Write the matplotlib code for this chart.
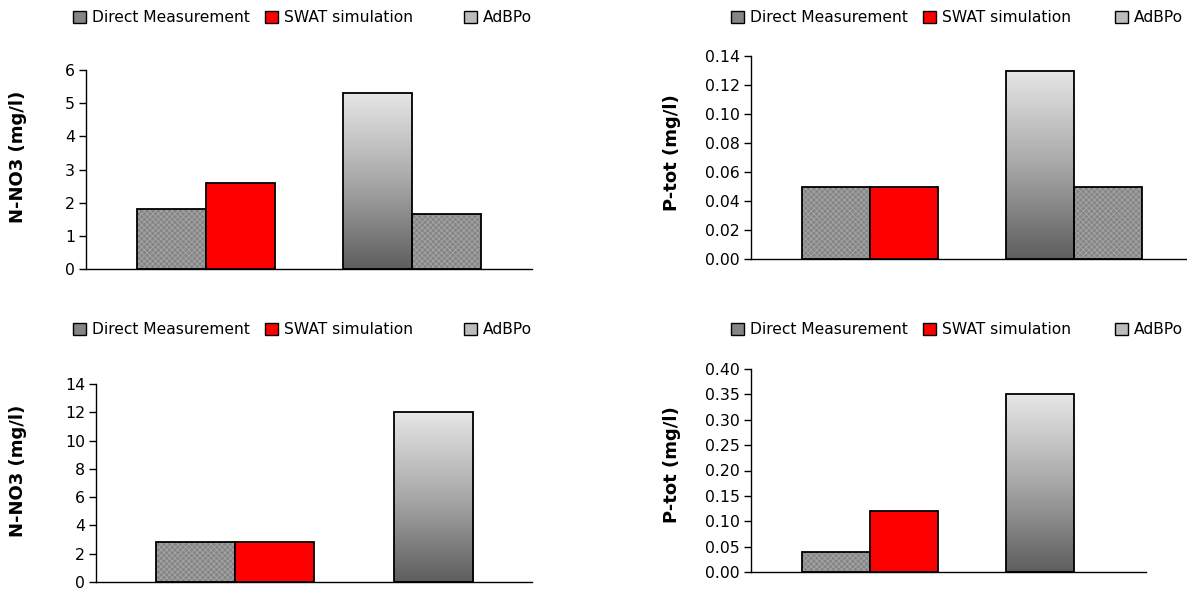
import numpy as np
import matplotlib
matplotlib.use("Agg")
import matplotlib.pyplot as plt
from matplotlib.patches import Patch
from matplotlib.colors import LinearSegmentedColormap

# ---- data ----
series = ["Direct Measurement", "SWAT simulation", "AdBPo"]
# group 1: Direct, SWAT ; group 2: AdBPo, Direct (second measurement)
p1_direct = [1.8]
p1_swat = [2.6]
p1_adbpo = [5.3]
p1_direct2 = [1.65]

p2_direct = [0.05]
p2_swat = [0.05]
p2_adbpo = [0.13]
p2_direct2 = [0.05]

p3_direct = [2.8]
p3_swat = [2.8]
p3_adbpo = [12.0]
p3_direct2 = []

p4_direct = [0.04]
p4_swat = [0.12]
p4_adbpo = [0.35]
p4_direct2 = []

ylabels = ["N-NO3 (mg/l)", "P-tot (mg/l)", "N-NO3 (mg/l)", "P-tot (mg/l)"]
yticks_list = [np.arange(0, 7, 1), np.arange(0, 0.141, 0.02),
               np.arange(0, 15, 2), np.arange(0, 0.401, 0.05)]
yfmt = ["{:.0f}", "{:.2f}", "{:.0f}", "{:.2f}"]

# ---- style ----
plt.rcParams['font.family'] = ['DejaVu Sans']
plt.rcParams['hatch.linewidth'] = 0.6
W, H = 1187, 589
fig = plt.figure(figsize=(W / 100, H / 100), dpi=100)

HATCH_FACE = '#858585'
HATCH_COL = '#a6a6a6'
RED = '#ff0000'
grad_cmap = LinearSegmentedColormap.from_list('g', ['#5e5e5e', '#a8a8a8', '#e6e6e6'])

# axes rects in pixels: left, right, top, bottom
rects = [(86, 532, 70, 269), (751, 1193, 56, 259), (96, 532, 384, 582), (751, 1146, 369, 572)]
xlims = [(-0.583, 1.583), (-0.583, 1.583), (-0.584, 1.248), (-0.583, 1.353)]
widths = [0.335, 0.333, 0.332, 0.333]
data = [(p1_direct, p1_swat, p1_adbpo, p1_direct2),
        (p2_direct, p2_swat, p2_adbpo, p2_direct2),
        (p3_direct, p3_swat, p3_adbpo, p3_direct2),
        (p4_direct, p4_swat, p4_adbpo, p4_direct2)]
ylab_pos = [(18, 157), (672, 153), (18, 471), (672, 465)]


def hatched_bar(ax, x, h, w):
    ax.bar(x, h, w, color=HATCH_FACE, hatch='xxxxxx', edgecolor=HATCH_COL, linewidth=0, zorder=2)
    ax.bar(x, h, w, fill=False, edgecolor='black', linewidth=1.3, zorder=3)


def gradient_bar(ax, x, h, w):
    bars = ax.bar(x, h, w, fill=False, edgecolor='black', linewidth=1.3, zorder=3)
    grad = np.linspace(0, 1, 256).reshape(-1, 1)
    for b in bars:
        x0, bw, bh = b.get_x(), b.get_width(), b.get_height()
        ax.imshow(grad, cmap=grad_cmap, origin='lower', aspect='auto',
                  extent=[x0, x0 + bw, 0, bh], zorder=2, interpolation='bilinear')


for i in range(4):
    l, r, t, b = rects[i]
    ax = fig.add_axes([l / W, 1 - b / H, (r - l) / W, (b - t) / H])
    d, s, a, d2 = data[i]
    w = widths[i]
    hatched_bar(ax, np.arange(len(d)) - w / 2, d, w)
    ax.bar(np.arange(len(s)) + w / 2, s, w, color=RED, edgecolor='black', linewidth=1.3, zorder=3)
    gradient_bar(ax, np.arange(len(a)) + 1 - w / 2, a, w)
    if len(d2):
        hatched_bar(ax, np.arange(len(d2)) + 1 + w / 2, d2, w)
    ax.set_xlim(*xlims[i])
    yt = yticks_list[i]
    ax.set_ylim(0, yt[-1])
    ax.set_yticks(yt)
    ax.set_yticklabels([yfmt[i].format(v) for v in yt], fontsize=11.3)
    ax.set_xticks([])
    for sp in ['top', 'right']:
        ax.spines[sp].set_visible(False)
    ax.spines['left'].set_linewidth(1.0)
    ax.spines['bottom'].set_linewidth(1.0)
    ax.tick_params(axis='y', direction='out', length=5, width=1, pad=3)
    ax.patch.set_alpha(0)
    lx, ly = ylab_pos[i]
    fig.text(lx / W, 1 - ly / H, ylabels[i], rotation=90,
             ha='center', va='center', fontsize=13, fontweight='bold')

# legends
handles = [Patch(facecolor=HATCH_FACE, edgecolor='black', linewidth=1.0),
           Patch(facecolor=RED, edgecolor='black', linewidth=1.0),
           Patch(facecolor='#bcbcbc', edgecolor='black', linewidth=1.0)]
leg_x = [[73, 265, 464], [731, 923, 1115], [73, 265, 464], [731, 923, 1115]]
leg_y = [18, 18, 330, 330]
for i in range(4):
    for j in range(3):
        fig.legend([handles[j]], [series[j]], loc='center left',
                   bbox_to_anchor=(leg_x[i][j] / W, 1 - leg_y[i] / H),
                   frameon=False, borderpad=0, borderaxespad=0,
                   handlelength=0.85, handleheight=0.85, handletextpad=0.35,
                   fontsize=11.2)

fig.savefig('out.png', dpi=100)
